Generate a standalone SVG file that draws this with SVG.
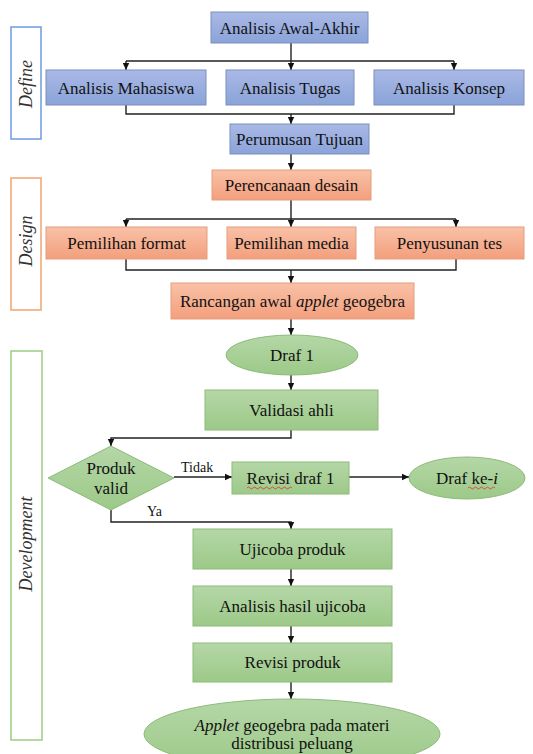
<svg xmlns="http://www.w3.org/2000/svg" width="533" height="754" viewBox="0 0 533 754">
<defs>
<linearGradient id="gb" x1="0" y1="0" x2="0" y2="1"><stop offset="0" stop-color="#aab9e6"/><stop offset="1" stop-color="#8aa3d9"/></linearGradient>
<linearGradient id="go" x1="0" y1="0" x2="0" y2="1"><stop offset="0" stop-color="#f9c1a7"/><stop offset="1" stop-color="#f39f7d"/></linearGradient>
<linearGradient id="gg" x1="0" y1="0" x2="0" y2="1"><stop offset="0" stop-color="#b5d7a7"/><stop offset="1" stop-color="#9cc988"/></linearGradient>
<marker id="ar" markerWidth="8" markerHeight="8" refX="7" refY="4" orient="auto" markerUnits="userSpaceOnUse"><path d="M0,0.8 L7,4 L0,7.2 Z" fill="#111"/></marker>
<style>
text{font-family:"Liberation Serif","Times New Roman",serif}
.t{font-size:17px;fill:#111;text-anchor:middle}
.lab{font-size:18px;font-style:italic;fill:#333;text-anchor:middle}
.sm{font-size:14px;fill:#111}
.b{fill:url(#gb);stroke:#7b8fbd;stroke-width:1}
.o{fill:url(#go);stroke:#e39e7c;stroke-width:1}
.g{fill:url(#gg);stroke:#8dbb7a;stroke-width:1}
.c{fill:none;stroke:#222;stroke-width:1.4}
.ca{fill:none;stroke:#222;stroke-width:1.4;marker-end:url(#ar)}
.sq{fill:none;stroke:#e03030;stroke-width:0.8}
</style>
</defs>

<g id="phase-define"><rect x="11" y="27" width="30" height="112" fill="#fff" stroke="#6f9ae0" stroke-width="1.5"/><text class="lab" transform="translate(32,84) rotate(-90)">Define</text></g>
<g id="phase-design"><rect x="11" y="178" width="30" height="132" fill="#fff" stroke="#f3a36e" stroke-width="1.5"/><text class="lab" transform="translate(32,241) rotate(-90)">Design</text></g>
<g id="phase-development"><rect x="11" y="351" width="31" height="389" fill="#fff" stroke="#9ccc84" stroke-width="1.5"/><text class="lab" transform="translate(32,544) rotate(-90)">Development</text></g>

<g id="connectors">
<path class="c" d="M291,43 V61 M126,61 H454"/>
<path class="ca" d="M126,61 V70"/><path class="ca" d="M291,61 V70"/><path class="ca" d="M454,61 V70"/>
<path class="c" d="M126,105 V114 H454 V105"/>
<path class="ca" d="M291,114 V124"/>
<path class="ca" d="M291,154 V170"/>
<path class="c" d="M291,200 V219 M126,219 H456"/>
<path class="ca" d="M126,219 V227"/><path class="ca" d="M291,219 V227"/><path class="ca" d="M456,219 V227"/>
<path class="c" d="M126,259 V270 H456 V259"/>
<path class="ca" d="M291,270 V283"/>
<path class="ca" d="M291,319 V335"/>
<path class="ca" d="M291,375 V390"/>
<path class="ca" d="M291,430 V438 H111 V446"/>
<path class="ca" d="M174,477 H232"/>
<path class="ca" d="M349,477 H409"/>
<path class="ca" d="M111,510 V522 H291 V529"/>
<path class="ca" d="M291,569 V586"/>
<path class="ca" d="M291,626 V643"/>
<path class="ca" d="M291,682 V699"/>
<text class="sm" x="181" y="472">Tidak</text>
<text class="sm" x="147" y="516">Ya</text>
</g>

<g id="n-awal"><rect class="b" x="211" y="12" width="157" height="31"/><text class="t" x="289.5" y="33.5">Analisis Awal-Akhir</text></g>
<g id="n-mahasiswa"><rect class="b" x="46" y="70" width="160" height="35"/><text class="t" x="126" y="93.5">Analisis Mahasiswa</text></g>
<g id="n-tugas"><rect class="b" x="226" y="70" width="128" height="35"/><text class="t" x="290" y="93.5">Analisis Tugas</text></g>
<g id="n-konsep"><rect class="b" x="374" y="70" width="150" height="35"/><text class="t" x="449" y="93.5">Analisis Konsep</text></g>
<g id="n-perumusan"><rect class="b" x="230" y="124" width="139" height="30"/><text class="t" x="299.5" y="144.5">Perumusan Tujuan</text></g>

<g id="n-perencanaan"><rect class="o" x="212" y="170" width="159" height="30"/><text class="t" x="291.5" y="190.5">Perencanaan desain</text></g>
<g id="n-format"><rect class="o" x="46" y="227" width="161" height="32"/><text class="t" x="126.5" y="248.5">Pemilihan format</text></g>
<g id="n-media"><rect class="o" x="227" y="227" width="129" height="32"/><text class="t" x="291.5" y="248.5">Pemilihan media</text></g>
<g id="n-tes"><rect class="o" x="375" y="227" width="149" height="32"/><text class="t" x="449.5" y="248.5">Penyusunan tes</text></g>
<g id="n-rancangan"><rect class="o" x="171" y="283" width="243" height="36"/><text class="t" x="292.5" y="306.5">Rancangan awal <tspan font-style="italic">applet</tspan> geogebra</text></g>

<g id="n-draf1"><ellipse class="g" cx="292" cy="355" rx="66" ry="20"/><text class="t" x="292" y="360.5">Draf 1</text></g>
<g id="n-validasi"><rect class="g" x="205" y="390" width="173" height="40"/><text class="t" x="291.5" y="415.5">Validasi ahli</text></g>
<g id="n-valid"><polygon class="g" points="48,478 111,446 174,478 111,510"/><text class="t" x="111" y="474">Produk</text><text class="t" x="111" y="494">valid</text></g>
<g id="n-revisi1"><rect class="g" x="232" y="462" width="117" height="32"/><text class="t" x="290.5" y="483.5">Revisi draf 1</text><path class="sq" d="M247,488 q1.5,-2 3,0 t3,0 t3,0 t3,0 t3,0 t3,0 t3,0 t3,0 t3,0 t3,0 t3,0 t3,0 t3,0 t3,0 t3,0"/></g>
<g id="n-drafke"><ellipse class="g" cx="467" cy="478" rx="58" ry="21"/><text class="t" x="467" y="483.5">Draf ke-<tspan font-style="italic">i</tspan></text><path class="sq" d="M468,488 q1.5,-2 3,0 t3,0 t3,0 t3,0 t3,0 t3,0 t3,0 t3,0 t3,0"/></g>
<g id="n-ujicoba"><rect class="g" x="193" y="529" width="199" height="40"/><text class="t" x="292.5" y="554.5">Ujicoba produk</text></g>
<g id="n-analisis"><rect class="g" x="193" y="586" width="199" height="40"/><text class="t" x="292.5" y="611.5">Analisis hasil ujicoba</text></g>
<g id="n-revisiproduk"><rect class="g" x="193" y="643" width="199" height="39"/><text class="t" x="292.5" y="667.5">Revisi produk</text></g>
<g id="n-applet"><ellipse class="g" cx="292" cy="734" rx="148" ry="35"/><text class="t" x="292" y="731"><tspan font-style="italic">Applet</tspan> geogebra pada materi</text><text class="t" x="292" y="749">distribusi peluang</text></g>
</svg>
